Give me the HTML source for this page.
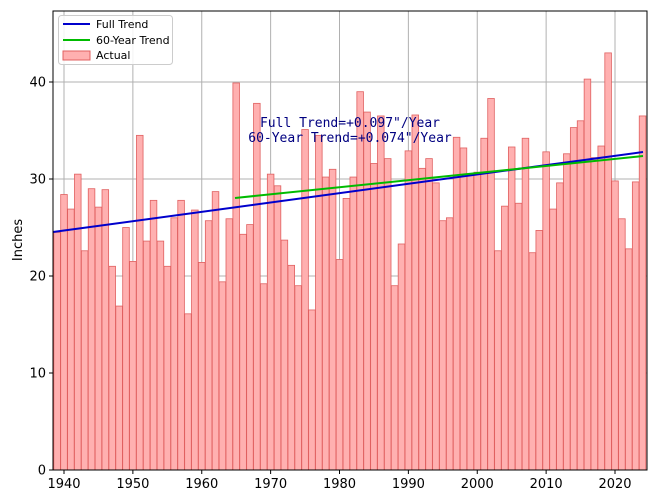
<!DOCTYPE html>
<html><head><style>body{margin:0;background:#fff}svg{display:block}</style></head>
<body>
<svg id="s" width="660" height="495" xmlns="http://www.w3.org/2000/svg" font-family="DejaVu Sans, Liberation Sans, sans-serif">
<rect width="660" height="495" fill="#fff"/>
<g id="grid" stroke="#b0b0b0" stroke-width="1"></g>
<g id="bars"></g>
<line x1="53" y1="232" x2="643" y2="152" stroke="#0000cc" stroke-width="2"/>
<line x1="235" y1="198" x2="643" y2="156" stroke="#00bb00" stroke-width="2"/>
<text x="350" y="127" text-anchor="middle" font-family="DejaVu Sans Mono, Liberation Mono, monospace" font-size="13" fill="#000080">Full Trend=+0.097"/Year</text>
<text x="350" y="142" text-anchor="middle" font-family="DejaVu Sans Mono, Liberation Mono, monospace" font-size="13" fill="#000080">60-Year Trend=+0.074"/Year</text>
<rect x="53" y="11" width="594" height="459" fill="none" stroke="#000" stroke-width="1"/>
<g id="ticks" font-size="13" fill="#000"></g>
<text transform="translate(22,240) rotate(-90)" text-anchor="middle" font-size="13">Inches</text>
<rect x="58.5" y="15.5" width="114" height="49" rx="3" fill="#fff" fill-opacity="0.85" stroke="#ccc"/>
<line x1="63" y1="24" x2="90" y2="24" stroke="#0000cc" stroke-width="2"/>
<text x="96" y="28" font-size="11">Full Trend</text>
<line x1="63" y1="40" x2="90" y2="40" stroke="#00bb00" stroke-width="2"/>
<text x="96" y="44" font-size="11">60-Year Trend</text>
<rect x="63" y="51" width="27" height="9" fill="#ffb0b0" stroke="#e06060"/>
<text x="96" y="59" font-size="11">Actual</text>
</svg>
<script>
var v=[24.5,28.4,26.9,30.5,22.6,29.0,27.1,28.9,21.0,16.9,25.0,21.5,34.5,23.6,27.8,23.6,21.0,26.0,27.8,16.1,26.8,21.4,25.7,28.7,19.4,25.9,39.9,24.3,25.3,37.8,19.2,30.5,29.3,23.7,21.1,19.0,35.1,16.5,34.5,30.2,31.0,21.7,28.0,30.2,39.0,36.9,31.6,36.5,32.1,19.0,23.3,32.9,36.6,31.1,32.1,29.6,25.7,26.0,34.3,33.2,30.4,30.7,34.2,38.3,22.6,27.2,33.3,27.5,34.2,22.4,24.7,32.8,26.9,29.6,32.6,35.3,36.0,40.3,32.2,33.4,43.0,29.8,25.9,22.8,29.7,36.5];
var ns="http://www.w3.org/2000/svg";
function X(y){return 64+(y-1940)*6.8875}
function Y(v){return 470-v*9.7}
var g=document.getElementById("grid"),b=document.getElementById("bars"),t=document.getElementById("ticks");
function el(p,n,a,txt){var e=document.createElementNS(ns,n);for(var k in a)e.setAttribute(k,a[k]);if(txt)e.textContent=txt;p.appendChild(e);return e}
for(var yr=1940;yr<=2020;yr+=10){var x=X(yr);el(g,"line",{x1:x,x2:x,y1:11,y2:470});el(t,"line",{x1:x,x2:x,y1:470,y2:474,stroke:"#000"});el(t,"text",{x:x,y:488,"text-anchor":"middle"},String(yr))}
for(var i=0;i<=40;i+=10){var y=Y(i);el(g,"line",{x1:53,x2:647,y1:y,y2:y});el(t,"line",{x1:49,x2:53,y1:y,y2:y,stroke:"#000"});el(t,"text",{x:46,y:y+4.5,"text-anchor":"end"},String(i))}
v.forEach(function(h,i){var x=X(1939+i);el(b,"rect",{x:x-3.3,y:Y(h),width:6.6,height:h*9.7,fill:"#ffb0b0",stroke:"#e06060","stroke-width":0.8})});
</script>
</body></html>
